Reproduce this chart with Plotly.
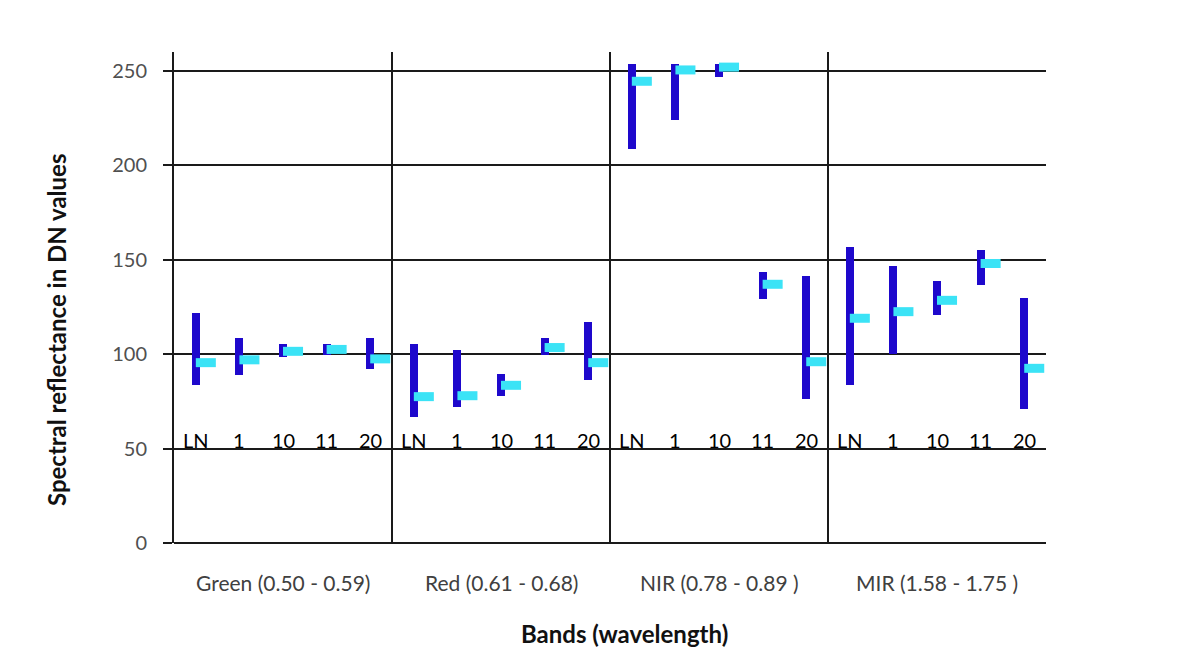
import plotly.graph_objects as go

groups = ["Green (0.50 - 0.59)", "Red (0.61 - 0.68)", "NIR (0.78 - 0.89 )", "MIR (1.58 - 1.75 )"]
categories = ["LN", "1", "10", "11", "20"]

high_green = [122, 108.5, 105.5, 105.5, 108.5]
low_green = [83.5, 89, 98.5, 99.5, 92]
mean_green = [95.5, 97, 101.5, 102.5, 97.5]

high_red = [105.5, 102, 89.5, 108.5, 117]
low_red = [66.5, 72, 78, 99.5, 86.5]
mean_red = [77.5, 78, 83.5, 103.5, 95.5]

high_nir = [253.5, 253.5, 253.5, 143.5, 141.5]
low_nir = [208.5, 224, 246.5, 129, 76]
mean_nir = [244.5, 250.5, 252, 137, 96]

high_mir = [157, 146.5, 138.5, 155, 129.5]
low_mir = [83.5, 100, 120.5, 136.5, 71]
mean_mir = [119, 122.5, 128.5, 148, 92.5]

y_ticks = [0, 50, 100, 150, 200, 250]

highs = high_green + high_red + high_nir + high_mir
lows = low_green + low_red + low_nir + low_mir
means = mean_green + mean_red + mean_nir + mean_mir
n_cat = len(categories)
xs = list(range(len(groups) * n_cat))

BLUE = "#1E08CC"
CYAN = "#3BE3F6"
LINE = "#1a1a1a"
FONT = "Lato"

fig = go.Figure()
fig.add_trace(go.Bar(
    x=xs, y=[h - l for h, l in zip(highs, lows)], base=lows,
    width=0.185, marker=dict(color=BLUE, line=dict(width=0)),
    showlegend=False, hoverinfo="skip",
))
fig.add_trace(go.Scatter(
    x=[x + 0.23 for x in xs], y=means, mode="markers",
    marker=dict(symbol="line-ew", size=14.3, color=CYAN,
                line=dict(color=CYAN, width=9)),
    showlegend=False, hoverinfo="skip",
))

shapes = []
for g in range(1, len(groups)):
    shapes.append(dict(type="line", xref="x", yref="y",
                       x0=g * n_cat - 0.5, x1=g * n_cat - 0.5, y0=0, y1=260,
                       line=dict(color=LINE, width=2), layer="below"))

annotations = []
for g, gname in enumerate(groups):
    for i, c in enumerate(categories):
        annotations.append(dict(x=g * n_cat + i, y=54.5, xref="x", yref="y",
                                text=c, showarrow=False, yanchor="middle",
                                font=dict(family=FONT, size=20, color="#000000")))
    annotations.append(dict(x=g * n_cat + 2, y=-0.081, xref="x", yref="paper",
                            text=gname, showarrow=False, yanchor="middle",
                            font=dict(family=FONT, size=21, color="#404040")))
annotations.append(dict(x=-0.134, y=0.434, xref="paper", yref="paper",
                        text="<b>Spectral reflectance in DN values</b>", textangle=-90,
                        showarrow=False, xanchor="center", yanchor="middle",
                        font=dict(family=FONT, size=24, color="#111111")))
annotations.append(dict(x=0.517, y=-0.185, xref="paper", yref="paper",
                        text="<b>Bands (wavelength)</b>",
                        showarrow=False, xanchor="center", yanchor="middle",
                        font=dict(family=FONT, size=24, color="#111111")))

fig.update_layout(
    width=1195, height=648,
    margin=dict(l=166, r=157, t=44, b=113),
    paper_bgcolor="white", plot_bgcolor="white",
    shapes=shapes, annotations=annotations,
    xaxis=dict(range=[-0.5, len(xs) - 0.5], showgrid=False, zeroline=False,
               showticklabels=False, ticks="", showline=False),
    yaxis=dict(range=[0, 260], tickvals=y_ticks, showgrid=True, gridcolor=LINE,
               gridwidth=2, zeroline=True, zerolinecolor=LINE, zerolinewidth=2,
               ticks="outside", ticklen=9, tickwidth=2, tickcolor=LINE,
               showline=True, linecolor=LINE, linewidth=2, ticklabelstandoff=12,
               tickfont=dict(family=FONT, size=20, color="#505050")),
    bargap=0,
)

fig.write_html("out.html")
